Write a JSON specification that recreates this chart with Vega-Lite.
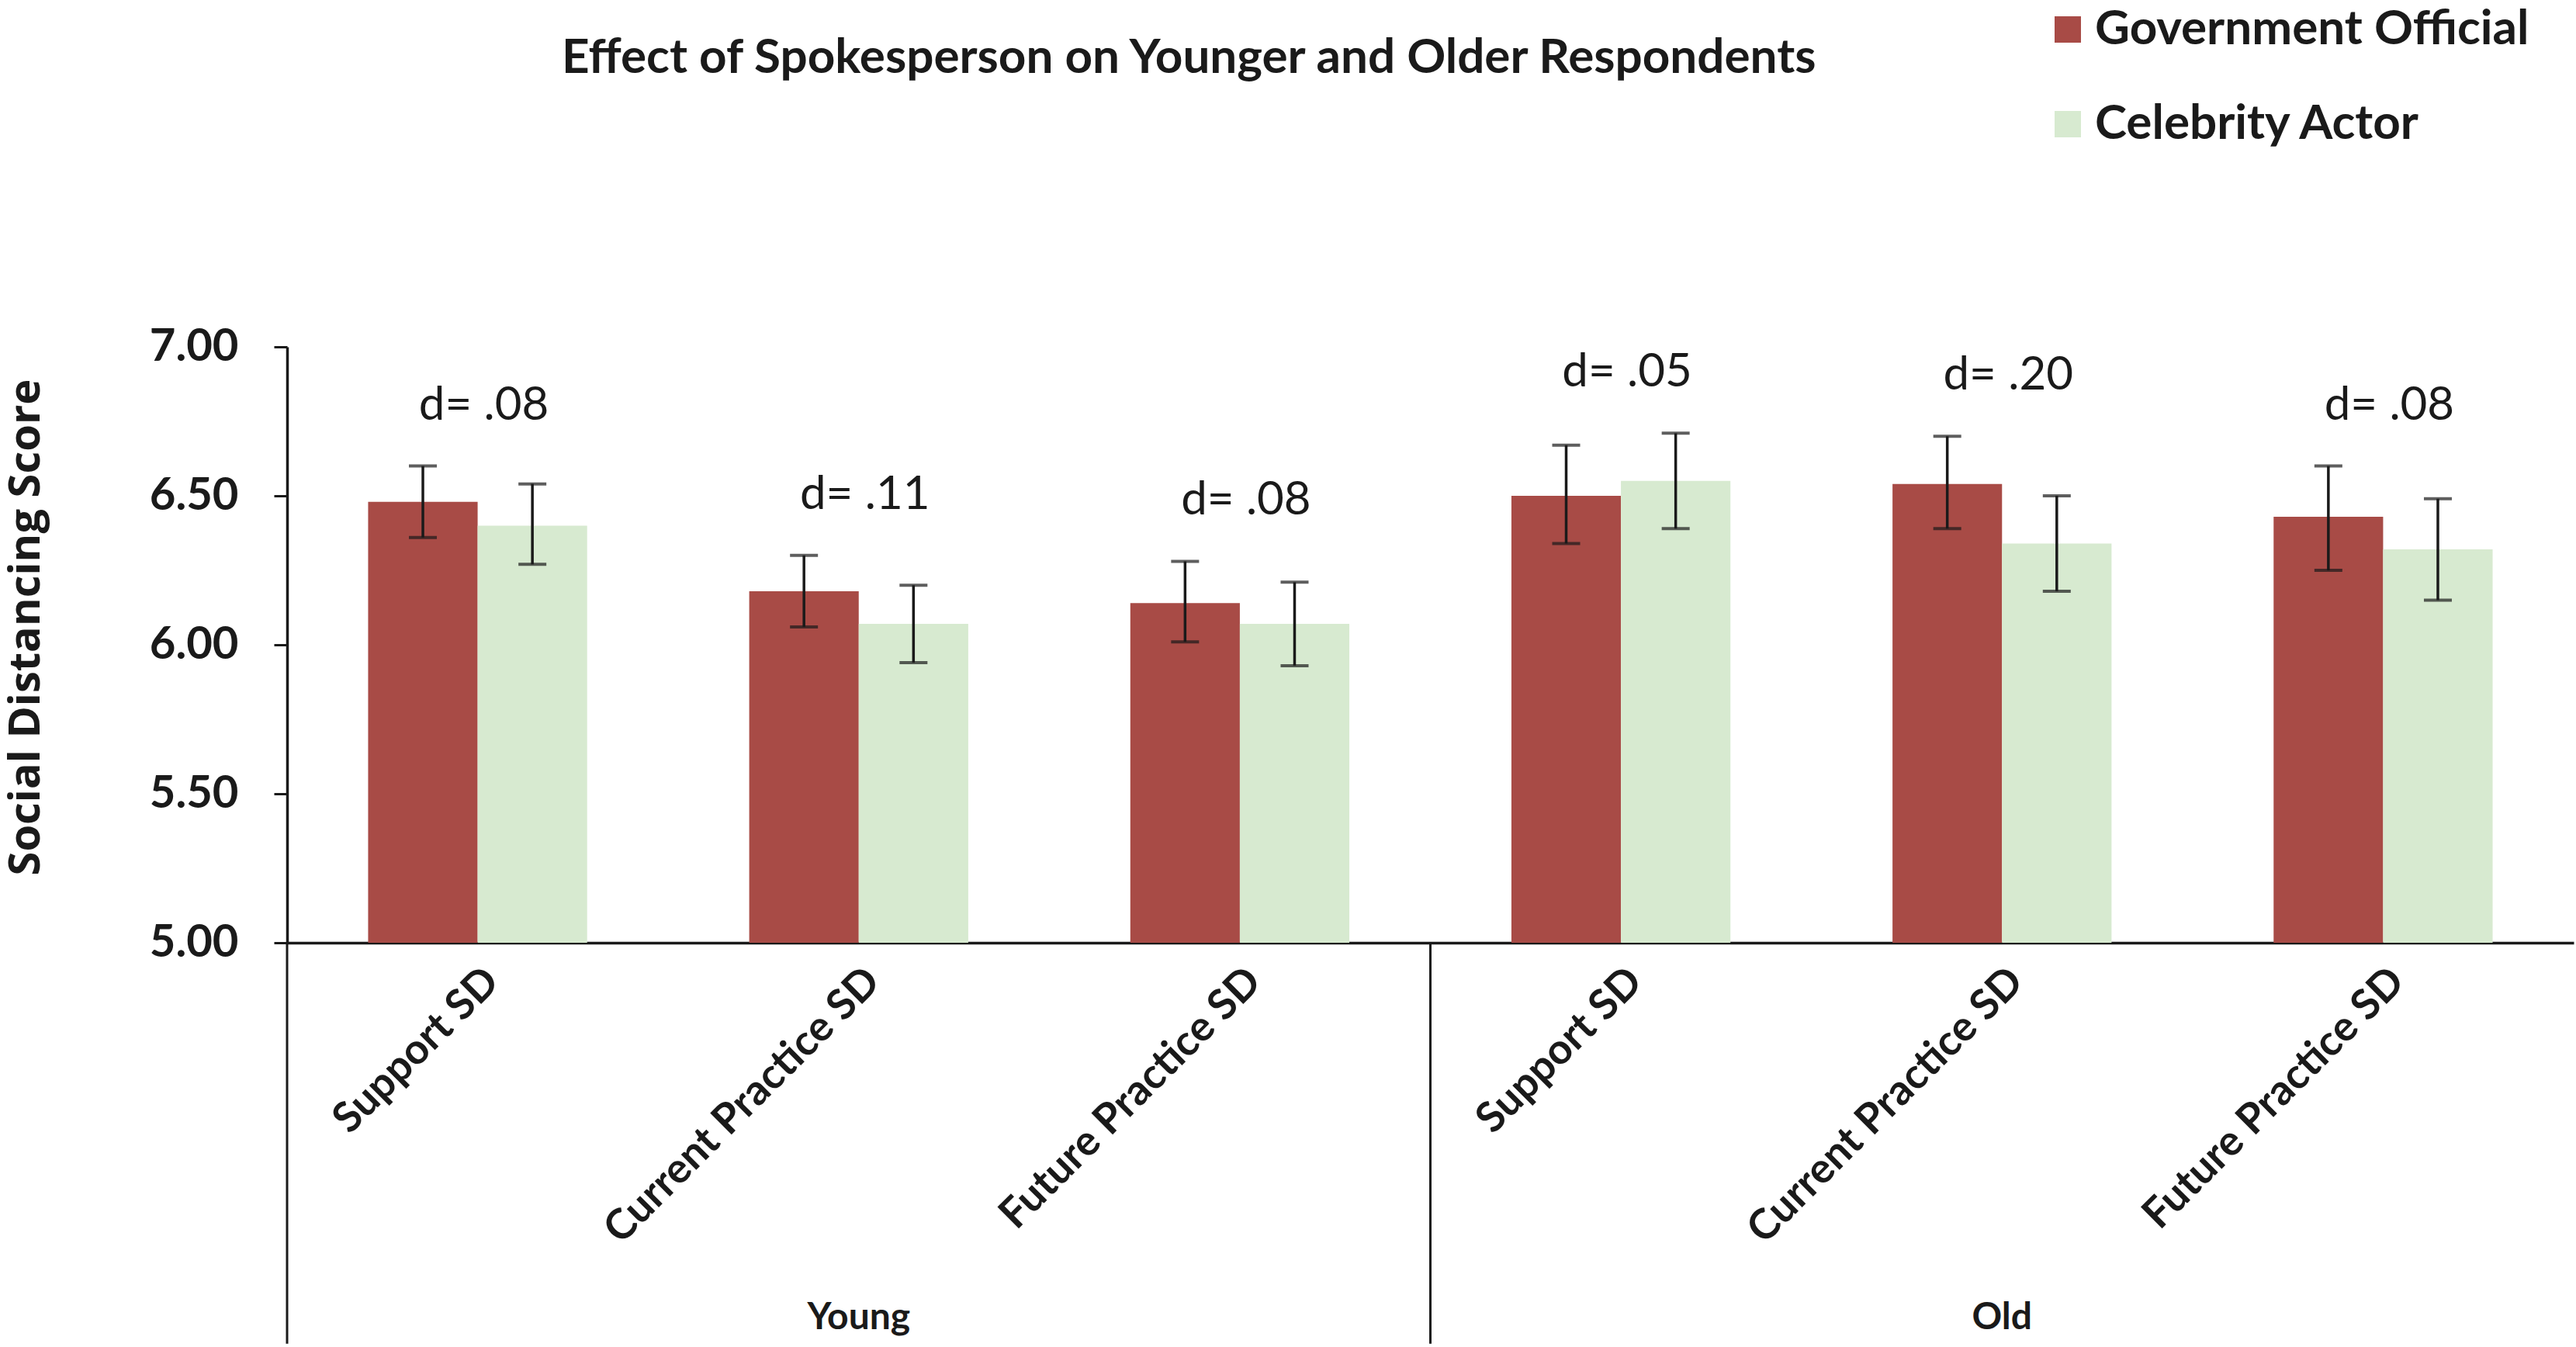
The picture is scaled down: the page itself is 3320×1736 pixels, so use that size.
{
  "$schema": "https://vega.github.io/schema/vega-lite/v6.json",
  "autosize": {"type": "none"},
  "padding": {"left": 370, "top": 447, "right": 3, "bottom": 521},
  "width": 2947,
  "height": 768,
  "background": "white",
  "title": {
    "text": "Effect of Spokesperson on Younger and Older Respondents",
    "anchor": "start",
    "frame": "group",
    "dx": 354,
    "offset": -100,
    "font": "Lato",
    "fontWeight": "bold",
    "fontSize": 62,
    "color": "#1a1a1a"
  },
  "data": {
    "values": [
      {"key": "Young|Support SD", "group": "Young", "measure": "Support SD", "speaker": "Government Official", "mean": 6.48, "lo": 6.36, "hi": 6.60, "d": "d= .08"},
      {"key": "Young|Support SD", "group": "Young", "measure": "Support SD", "speaker": "Celebrity Actor", "mean": 6.40, "lo": 6.27, "hi": 6.54, "d": "d= .08"},
      {"key": "Young|Current Practice SD", "group": "Young", "measure": "Current Practice SD", "speaker": "Government Official", "mean": 6.18, "lo": 6.06, "hi": 6.30, "d": "d= .11"},
      {"key": "Young|Current Practice SD", "group": "Young", "measure": "Current Practice SD", "speaker": "Celebrity Actor", "mean": 6.07, "lo": 5.94, "hi": 6.20, "d": "d= .11"},
      {"key": "Young|Future Practice SD", "group": "Young", "measure": "Future Practice SD", "speaker": "Government Official", "mean": 6.14, "lo": 6.01, "hi": 6.28, "d": "d= .08"},
      {"key": "Young|Future Practice SD", "group": "Young", "measure": "Future Practice SD", "speaker": "Celebrity Actor", "mean": 6.07, "lo": 5.93, "hi": 6.21, "d": "d= .08"},
      {"key": "Old|Support SD", "group": "Old", "measure": "Support SD", "speaker": "Government Official", "mean": 6.50, "lo": 6.34, "hi": 6.67, "d": "d= .05"},
      {"key": "Old|Support SD", "group": "Old", "measure": "Support SD", "speaker": "Celebrity Actor", "mean": 6.55, "lo": 6.39, "hi": 6.71, "d": "d= .05"},
      {"key": "Old|Current Practice SD", "group": "Old", "measure": "Current Practice SD", "speaker": "Government Official", "mean": 6.54, "lo": 6.39, "hi": 6.70, "d": "d= .20"},
      {"key": "Old|Current Practice SD", "group": "Old", "measure": "Current Practice SD", "speaker": "Celebrity Actor", "mean": 6.34, "lo": 6.18, "hi": 6.50, "d": "d= .20"},
      {"key": "Old|Future Practice SD", "group": "Old", "measure": "Future Practice SD", "speaker": "Government Official", "mean": 6.43, "lo": 6.25, "hi": 6.60, "d": "d= .08"},
      {"key": "Old|Future Practice SD", "group": "Old", "measure": "Future Practice SD", "speaker": "Celebrity Actor", "mean": 6.32, "lo": 6.15, "hi": 6.49, "d": "d= .08"}
    ]
  },
  "encoding": {
    "x": {
      "field": "key",
      "type": "nominal",
      "sort": null,
      "scale": {
        "domain": ["Young|Support SD", "Young|Current Practice SD", "Young|Future Practice SD", "Old|Support SD", "Old|Current Practice SD", "Old|Future Practice SD"],
        "paddingInner": 0,
        "paddingOuter": 0
      },
      "axis": {
        "title": null,
        "labelExpr": "split(datum.label, '|')[1]",
        "labelAngle": -45,
        "labelFont": "Lato",
        "labelFontWeight": "bold",
        "labelFontSize": 54,
        "labelColor": "#1a1a1a",
        "labelPadding": 22,
        "labelLimit": 1000,
        "ticks": false,
        "domainColor": "#1a1a1a",
        "domainWidth": 3.5
      }
    }
  },
  "layer": [
    {
      "mark": {"type": "bar"},
      "encoding": {
        "xOffset": {
          "field": "speaker",
          "type": "nominal",
          "sort": ["Government Official", "Celebrity Actor"],
          "scale": {"paddingInner": 0, "paddingOuter": 0.74}
        },
        "y": {
          "field": "mean",
          "type": "quantitative",
          "scale": {"domain": [5, 7], "nice": false, "zero": false},
          "axis": {
            "title": "Social Distancing Score",
            "titleFont": "Open Sans",
            "titleFontWeight": "bold",
            "titleFontSize": 56,
            "titleColor": "#1a1a1a",
            "titlePadding": 130,
            "titleY": 361,
            "values": [5, 5.5, 6, 6.5, 7],
            "format": ".2f",
            "labelFont": "Lato",
            "labelFontWeight": "bold",
            "labelFontSize": 58,
            "labelColor": "#1a1a1a",
            "labelPadding": 46,
            "tickSize": 17,
            "tickWidth": 3,
            "tickColor": "#1a1a1a",
            "domainColor": "#1a1a1a",
            "domainWidth": 3.5,
            "grid": false
          }
        },
        "y2": {"datum": 5},
        "color": {
          "field": "speaker",
          "type": "nominal",
          "scale": {
            "domain": ["Government Official", "Celebrity Actor"],
            "range": ["#A84B46", "#D7EAD0"]
          },
          "legend": {
            "title": null,
            "orient": "none",
            "legendX": 2264,
            "legendY": -440,
            "padding": 0,
            "direction": "vertical",
            "symbolType": "square",
            "symbolSize": 1156,
            "symbolStrokeWidth": 0,
            "labelFont": "Lato",
            "labelFontWeight": "bold",
            "labelFontSize": 62,
            "labelColor": "#1a1a1a",
            "labelOffset": 4,
            "labelLimit": 1000,
            "rowPadding": 60
          }
        }
      }
    },
    {
      "mark": {"type": "rule", "color": "#1a1a1a", "strokeWidth": 3.5},
      "encoding": {
        "xOffset": {"field": "speaker", "type": "nominal", "sort": ["Government Official", "Celebrity Actor"]},
        "y": {"field": "lo", "type": "quantitative"},
        "y2": {"field": "hi"}
      }
    },
    {
      "mark": {"type": "tick", "color": "#1a1a1a", "size": 36, "thickness": 4},
      "encoding": {
        "xOffset": {"field": "speaker", "type": "nominal", "sort": ["Government Official", "Celebrity Actor"]},
        "y": {"field": "lo", "type": "quantitative"}
      }
    },
    {
      "mark": {"type": "tick", "color": "#1a1a1a", "size": 36, "thickness": 4},
      "encoding": {
        "xOffset": {"field": "speaker", "type": "nominal", "sort": ["Government Official", "Celebrity Actor"]},
        "y": {"field": "hi", "type": "quantitative"}
      }
    },
    {
      "transform": [
        {"aggregate": [{"op": "max", "field": "hi", "as": "top"}], "groupby": ["key", "d"]}
      ],
      "mark": {"type": "text", "font": "Lato", "fontSize": 60, "color": "#1a1a1a", "baseline": "alphabetic", "dy": -60, "dx": 8},
      "encoding": {
        "y": {"field": "top", "type": "quantitative"},
        "text": {"field": "d", "type": "nominal"}
      }
    },
    {
      "transform": [
        {"filter": "datum.measure == 'Current Practice SD' && datum.speaker == 'Government Official'"}
      ],
      "mark": {"type": "text", "font": "Lato", "fontWeight": "bold", "fontSize": 48, "color": "#1a1a1a", "baseline": "middle"},
      "encoding": {
        "y": {"datum": 3.74},
        "text": {"field": "group", "type": "nominal"}
      }
    },
    {
      "transform": [
        {"filter": "datum.measure == 'Support SD' && datum.speaker == 'Government Official'"}
      ],
      "mark": {"type": "rule", "color": "#1a1a1a", "strokeWidth": 3},
      "encoding": {
        "x": {"field": "key", "type": "nominal", "bandPosition": 0},
        "y": {"datum": 5},
        "y2": {"datum": 3.654}
      }
    }
  ],
  "config": {
    "view": {"stroke": null}
  }
}
